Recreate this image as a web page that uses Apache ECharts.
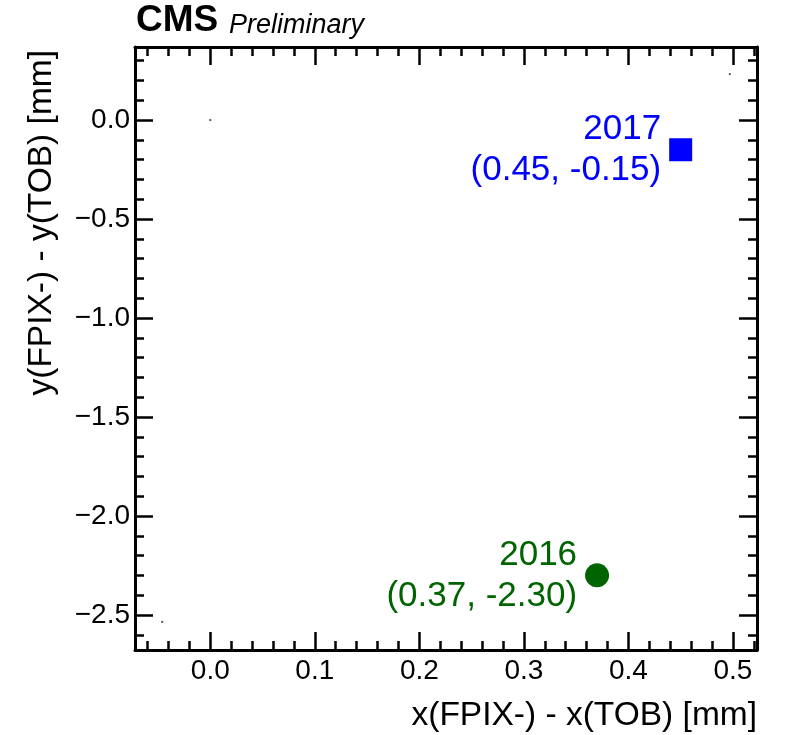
<!DOCTYPE html>
<html>
<head>
<meta charset="utf-8">
<script src="https://cdn.jsdelivr.net/npm/echarts@6/dist/echarts.min.js"></script>
<style>
  html, body { margin: 0; padding: 0; background: #ffffff; }
  #chart { width: 788px; height: 735px; }
</style>
</head>
<body>
<div id="chart"></div>
<script>
// Axis ranges and tick marks
const xRange = [-0.072, 0.523];
const yRange = [-2.677, 0.369];
const xMajorTicks = [0.0, 0.1, 0.2, 0.3, 0.4, 0.5];
const yMajorTicks = [-2.5, -2.0, -1.5, -1.0, -0.5, 0.0];
const xMinorStep = 0.02;
const yMinorStep = 0.1;

// Offset measurements per year
const years = ['2016', '2017'];
const xOffsets = [0.37, 0.45];
const yOffsets = [-2.30, -0.15];

// Faint single-pixel points of the frame graph
const frameDots = [[0.0, 0.0], [-0.046, -2.535], [0.497, 0.232]];

const FONT = '"Liberation Sans", Arial, Helvetica, sans-serif';
const yearColors = ['#006400', '#0000ff'];
const yearSymbols = ['circle', 'rect'];
const yearSymbolSizes = [24, 23];

function minorTicks(range, step) {
  const out = [];
  const start = Math.ceil(range[0] / step - 1e-9);
  const end = Math.floor(range[1] / step + 1e-9);
  for (let i = start; i <= end; i++) out.push(Math.round(i * step * 1000) / 1000);
  return out;
}
const xMinorTicks = minorTicks(xRange, xMinorStep);
const yMinorTicks = minorTicks(yRange, yMinorStep);

const fmtTick = v => v.toFixed(1).replace('-', '\u2212');

function axis(kind, position, ticks, length, withLine, withLabels) {
  const range = kind === 'x' ? xRange : yRange;
  return {
    type: 'value',
    position: position,
    min: range[0],
    max: range[1],
    axisLine: { show: withLine, onZero: false, lineStyle: { color: '#000', width: 3 } },
    axisTick: {
      show: true, inside: true, length: length, customValues: ticks,
      lineStyle: { color: '#000', width: 2.5 }
    },
    axisLabel: withLabels ? {
      show: true, customValues: ticks, formatter: fmtTick,
      fontFamily: FONT, fontSize: 28, color: '#000',
      margin: kind === 'x' ? 7 : 5
    } : { show: false },
    splitLine: { show: false },
    axisPointer: { show: false }
  };
}

const xAxes = [
  axis('x', 'bottom', xMajorTicks, 18, true, true),
  axis('x', 'bottom', xMinorTicks, 9, false, false),
  axis('x', 'top', xMajorTicks, 18, true, false),
  axis('x', 'top', xMinorTicks, 9, false, false)
];
const yAxes = [
  axis('y', 'left', yMajorTicks, 18, true, true),
  axis('y', 'left', yMinorTicks, 9, false, false),
  axis('y', 'right', yMajorTicks, 18, true, false),
  axis('y', 'right', yMinorTicks, 9, false, false)
];

const yearSeries = years.map((year, i) => ({
  name: year,
  type: 'scatter',
  xAxisIndex: 0,
  yAxisIndex: 0,
  symbol: yearSymbols[i],
  symbolSize: yearSymbolSizes[i],
  itemStyle: { color: yearColors[i], opacity: 1 },
  data: [[xOffsets[i], yOffsets[i]]],
  label: {
    show: true,
    position: 'left',
    distance: 8,
    align: 'right',
    color: yearColors[i],
    fontFamily: FONT,
    fontSize: 35,
    lineHeight: 41,
    formatter: p => year + '\n(' + p.value[0].toFixed(2) + ', ' + p.value[1].toFixed(2) + ')'
  },
  z: 5
}));

const option = {
  backgroundColor: '#ffffff',
  animation: false,
  grid: { left: 135, right: 31, top: 47, bottom: 85, containLabel: false },
  xAxis: xAxes,
  yAxis: yAxes,
  series: [
    ...yearSeries,
    {
      name: 'frame',
      type: 'scatter',
      symbol: 'rect',
      symbolSize: 2,
      itemStyle: { color: '#333' },
      data: frameDots,
      silent: true
    }
  ],
  graphic: [
    {
      type: 'text', x: 136, y: 39,
      style: { text: 'CMS', font: 'bold 37px ' + FONT, fill: '#000', textAlign: 'left', textVerticalAlign: 'bottom' }
    },
    {
      type: 'text', x: 229, y: 39,
      style: { text: 'Preliminary', font: 'italic 27px ' + FONT, fill: '#000', textAlign: 'left', textVerticalAlign: 'bottom' }
    },
    {
      type: 'text', x: 757, y: 716,
      style: { text: 'x(FPIX-) - x(TOB) [mm]', font: '33.5px ' + FONT, fill: '#000', textAlign: 'right', textVerticalAlign: 'middle' }
    },
    {
      type: 'text', x: 42, y: 50, rotation: Math.PI / 2,
      style: { text: 'y(FPIX-) - y(TOB) [mm]', font: '33.5px ' + FONT, fill: '#000', textAlign: 'right', textVerticalAlign: 'middle' }
    }
  ]
};

const chart = echarts.init(document.getElementById('chart'), null, { renderer: 'canvas' });
chart.setOption(option);
</script>
</body>
</html>
